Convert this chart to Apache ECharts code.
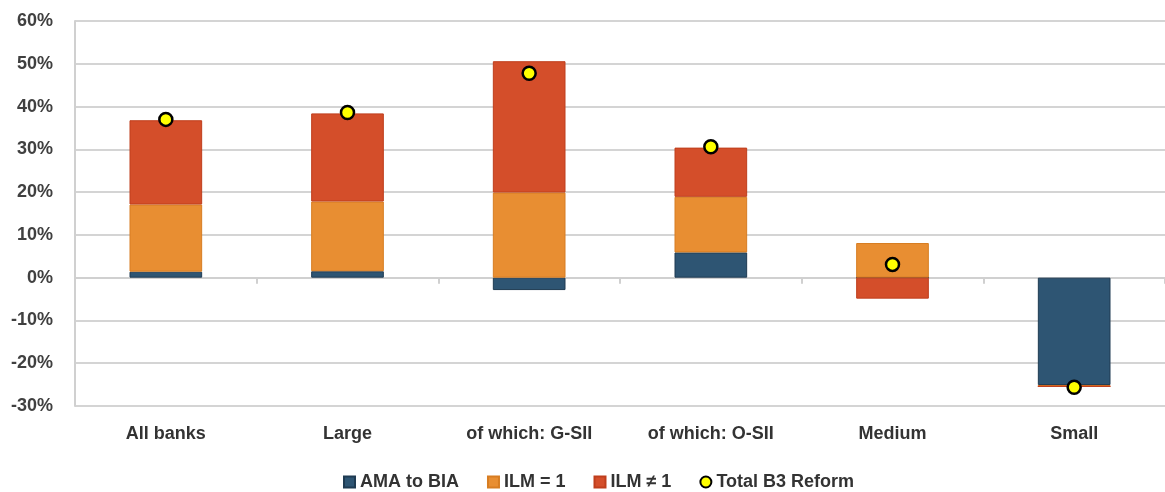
<!DOCTYPE html>
<html>
<head>
<meta charset="utf-8">
<script src="https://cdn.jsdelivr.net/npm/echarts@6/dist/echarts.min.js"></script>
<style>
html,body{margin:0;padding:0;background:#fff;}
#chart{width:1165px;height:492px;}
</style>
</head>
<body>
<div id="chart"></div>
<script>
const categories = ['All banks', 'Large', 'of which: G-SII', 'of which: O-SII', 'Medium', 'Small'];
const amaToBia = [1.4, 1.5, -2.9, 5.9, 0, -25.1];
const ilmEq1 = [15.7, 16.3, 19.9, 13.0, 8.1, -0.3];
const ilmNe1 = [19.7, 20.6, 30.7, 11.5, -4.9, 0];
const totalB3 = [37.0, 38.6, 47.8, 30.6, 3.1, -25.6];
const yTicks = { min: -30, max: 60, interval: 10 };

const FONT = '"Liberation Sans", Arial, sans-serif';
const chart = echarts.init(document.getElementById('chart'), null, { renderer: 'canvas' });

const barSeries = (name, data, color, border) => ({
  name, type: 'bar', stack: 'total', data, barWidth: '40%',
  itemStyle: { color, borderColor: border, borderWidth: 1 },
  emphasis: { disabled: true }
});

chart.setOption({
  animation: false,
  backgroundColor: '#fff',
  grid: { left: 75, top: 21, width: 1098, height: 385, containLabel: false },
  legend: {
    bottom: -4, left: 338, itemGap: 28, itemWidth: 11, itemHeight: 11,
    textStyle: { fontFamily: FONT, fontSize: 18, color: '#333', fontWeight: 'bold' },
    data: [
      { name: 'AMA to BIA', icon: 'rect' },
      { name: 'ILM = 1', icon: 'rect' },
      { name: 'ILM ≠ 1', icon: 'rect' },
      { name: 'Total B3 Reform', icon: 'circle' }
    ]
  },
  xAxis: [
    {
      type: 'category', data: categories, position: 'bottom',
      axisLine: { show: false, onZero: false }, axisTick: { show: false },
      axisLabel: { fontFamily: FONT, fontSize: 18, color: '#333', fontWeight: 'bold', margin: 19 }
    },
    {
      type: 'category', data: categories, position: 'bottom',
      axisLine: { show: true, onZero: true, lineStyle: { color: '#d0d0d0', width: 2 } },
      axisTick: { show: true, length: 6, lineStyle: { color: '#d0d0d0', width: 2 } },
      axisLabel: { show: false }
    }
  ],
  yAxis: {
    type: 'value', min: yTicks.min, max: yTicks.max, interval: yTicks.interval,
    axisLine: { show: true, lineStyle: { color: '#d0d0d0', width: 2 } },
    axisTick: { show: false },
    splitLine: { show: true, lineStyle: { color: '#d4d4d4', width: 2 } },
    axisLabel: { formatter: '{value}%', fontFamily: FONT, fontSize: 18, color: '#404040', fontWeight: 'bold', margin: 22 }
  },
  series: [
    barSeries('AMA to BIA', amaToBia, '#2E5573', '#1f3b52'),
    barSeries('ILM = 1', ilmEq1, '#E88E32', '#d77d22'),
    barSeries('ILM ≠ 1', ilmNe1, '#D44E2A', '#bf3e1c'),
    {
      name: 'Total B3 Reform', type: 'scatter', data: totalB3, symbol: 'circle', symbolSize: 13, z: 10,
      itemStyle: { color: '#FFFF00', borderColor: '#000', borderWidth: 2.5, opacity: 1 },
      emphasis: { disabled: true }
    }
  ]
});
</script>
</body>
</html>
